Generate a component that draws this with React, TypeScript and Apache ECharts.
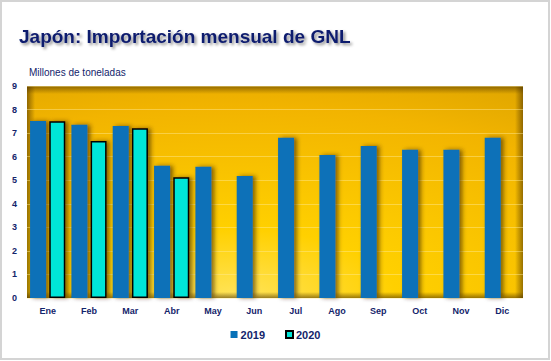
import React, { useEffect, useRef } from "react";
import * as echarts from "echarts";

const months = ["Ene", "Feb", "Mar", "Abr", "May", "Jun", "Jul", "Ago", "Sep", "Oct", "Nov", "Dic"];
const imports2019 = [7.51, 7.35, 7.3, 5.61, 5.57, 5.18, 6.8, 6.07, 6.45, 6.29, 6.29, 6.8];
const imports2020 = [7.5, 6.66, 7.21, 5.13, null, null, null, null, null, null, null, null];
const yTicks = [0, 1, 2, 3, 4, 5, 6, 7, 8, 9];

const NAVY = "#13246b";
const GRID = { left: 27, top: 86, width: 496, height: 212 };

export default function App() {
  const ref = useRef<HTMLDivElement>(null);

  useEffect(() => {
    document.body.style.margin = "0";
    if (!ref.current) return;
    const chart = echarts.init(ref.current, undefined, { renderer: "svg" });

    const edge = (x: number, y: number, w: number, h: number, gx: number, gy: number, gx2: number, gy2: number) => ({
      type: "rect",
      z: -1,
      silent: true,
      shape: { x, y, width: w, height: h },
      style: {
        fill: {
          type: "linear",
          x: gx, y: gy, x2: gx2, y2: gy2,
          colorStops: [
            { offset: 0, color: "rgba(70,45,0,0.55)" },
            { offset: 1, color: "rgba(70,45,0,0)" },
          ],
        },
      },
    });

    chart.setOption({
      animation: false,
      backgroundColor: "#ffffff",
      title: [
        {
          text: "Japón: Importación mensual de GNL",
          left: 19,
          top: 27,
          padding: 0,
          textStyle: {
            fontFamily: "Arial, 'Liberation Sans', sans-serif",
            fontWeight: "bold",
            fontSize: 19,
            color: "#0f1c6e",
            textShadowColor: "rgba(0,0,0,0.45)",
            textShadowBlur: 3,
            textShadowOffsetX: 2,
            textShadowOffsetY: 2,
          },
        },
        {
          text: "Millones de toneladas",
          left: 29,
          top: 67,
          padding: 0,
          textStyle: {
            fontFamily: "Arial, 'Liberation Sans', sans-serif",
            fontWeight: "normal",
            fontSize: 10,
            color: NAVY,
          },
        },
      ],
      legend: {
        bottom: 16,
        left: "center",
        itemWidth: 7,
        itemHeight: 7,
        itemGap: 20,
        icon: "rect",
        textStyle: {
          fontFamily: "Arial, 'Liberation Sans', sans-serif",
          fontWeight: "bold",
          fontSize: 11,
          color: NAVY,
          padding: [0, 0, 0, -2],
        },
        data: ["2019", "2020"],
      },
      grid: { ...GRID, containLabel: false },
      xAxis: {
        type: "category",
        data: months,
        axisLine: { show: false },
        axisTick: { show: false },
        axisLabel: {
          margin: 8,
          fontFamily: "Arial, 'Liberation Sans', sans-serif",
          fontWeight: "bold",
          fontSize: 9,
          color: NAVY,
        },
      },
      yAxis: {
        type: "value",
        min: yTicks[0],
        max: yTicks[yTicks.length - 1],
        interval: 1,
        axisLine: { show: false },
        axisTick: { show: false },
        axisLabel: {
          margin: 10,
          fontFamily: "Arial, 'Liberation Sans', sans-serif",
          fontWeight: "bold",
          fontSize: 9,
          color: NAVY,
        },
        splitLine: { lineStyle: { color: "rgba(255,235,150,0.45)", width: 1 } },
      },
      graphic: [
        {
          type: "rect",
          z: -2,
          silent: true,
          shape: { x: GRID.left, y: GRID.top, width: GRID.width, height: GRID.height },
          style: {
            fill: {
              type: "radial",
              x: 0.42,
              y: 1.0,
              r: 1.8,
              colorStops: [
                { offset: 0, color: "#ffe45a" },
                { offset: 0.18, color: "#ffd000" },
                { offset: 0.5, color: "#f2b400" },
                { offset: 0.8, color: "#c99500" },
                { offset: 1, color: "#a47800" },
              ],
            },
          },
        },
        edge(GRID.left, GRID.top, GRID.width, 8, 0, 0, 0, 1),
        edge(GRID.left, GRID.top + GRID.height - 6, GRID.width, 6, 0, 1, 0, 0),
        edge(GRID.left, GRID.top, 8, GRID.height, 0, 0, 1, 0),
        edge(GRID.left + GRID.width - 8, GRID.top, 8, GRID.height, 1, 0, 0, 0),
        {
          type: "rect",
          silent: true,
          shape: { x: 1, y: 1, width: 548, height: 358 },
          style: { fill: "none", stroke: "#d4d4d4", lineWidth: 2 },
        },
      ],
      series: [
        {
          name: "2019",
          type: "bar",
          data: imports2019,
          barWidth: 16,
          barGap: "20%",
          itemStyle: {
            color: "#0771b8",
            shadowColor: "rgba(60,40,0,0.6)",
            shadowBlur: 4,
            shadowOffsetX: 3,
            shadowOffsetY: 0,
          },
        },
        {
          name: "2020",
          type: "bar",
          data: imports2020,
          barWidth: 16,
          barGap: "20%",
          itemStyle: {
            color: "#00e6d8",
            borderColor: "#000000",
            borderWidth: 1.5,
            shadowColor: "rgba(60,40,0,0.6)",
            shadowBlur: 4,
            shadowOffsetX: 3,
            shadowOffsetY: 0,
          },
        },
      ],
    });

    return () => chart.dispose();
  }, []);

  return <div ref={ref} style={{ width: 551, height: 361 }} />;
}
